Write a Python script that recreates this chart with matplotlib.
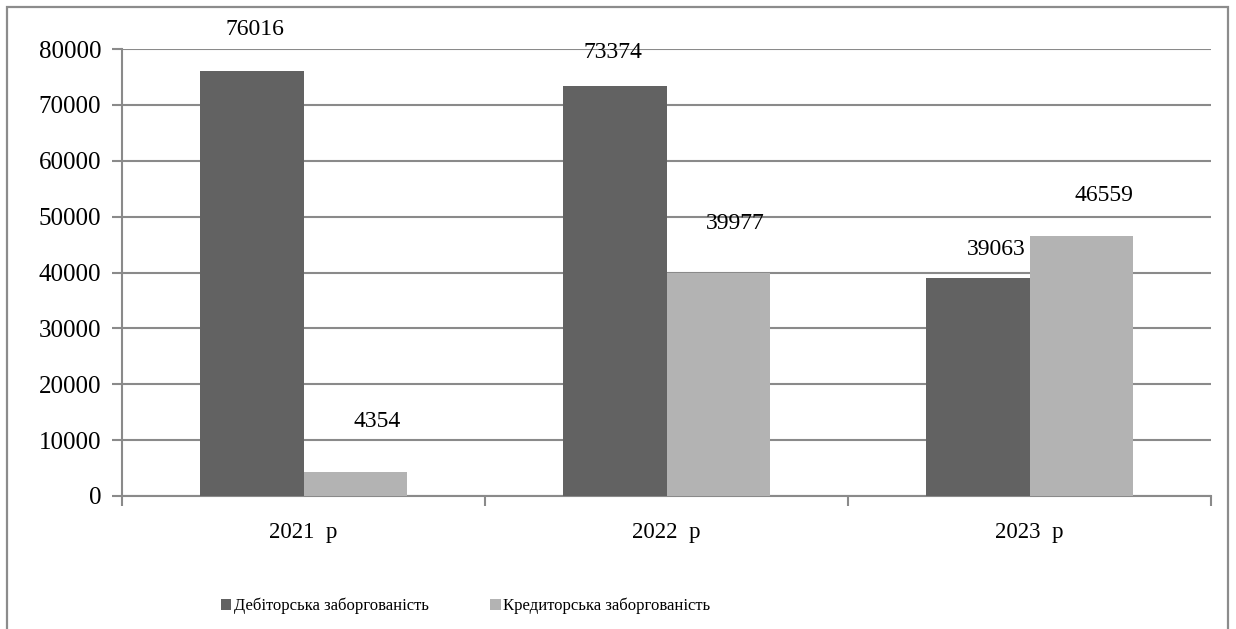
import matplotlib
matplotlib.use("Agg")
import matplotlib.pyplot as plt
from matplotlib.patches import Rectangle, Patch
import numpy as np

# Data
categories = ["2021  р", "2022  р", "2023  р"]
series_names = ["Дебіторська заборгованість", "Кредиторська заборгованість"]
receivables = [76016, 73374, 39063]
payables = [4354, 39977, 46559]
y_ticks = [0, 10000, 20000, 30000, 40000, 50000, 60000, 70000, 80000]

dark = "#626262"
light = "#b3b3b3"
grid_col = "#8a8a8a"
serif = ["Liberation Serif", "DejaVu Serif"]

plt.rcParams["font.family"] = serif

fig = plt.figure(figsize=(12.36, 6.29), dpi=100)
fig.patch.set_facecolor("white")

# outer chart frame (runs past the bottom edge)
fig.add_artist(Rectangle((7 / 1236, -0.05), (1228 - 7) / 1236, 1 - 7 / 629 + 0.05,
                         transform=fig.transFigure, fill=False,
                         edgecolor="#8c8c8c", linewidth=1.6))

ax = fig.add_axes([122 / 1236, 1 - 496 / 629, (1211 - 122) / 1236, (496 - 49) / 629])

x = np.arange(len(categories))
w = 0.284
b1 = ax.bar(x - w / 2, receivables, width=w, color=dark, zorder=3)
b2 = ax.bar(x + w / 2, payables, width=w, color=light, zorder=3)

ax.set_xlim(-0.5, len(categories) - 0.5)
ax.set_ylim(0, 80000)
ax.set_yticks(y_ticks)
ax.set_yticklabels([str(v) for v in y_ticks], fontsize=18)
ax.yaxis.grid(True, color=grid_col, linewidth=1.5, zorder=0)
ax.set_axisbelow(True)

ax.set_xticks(x)
ax.set_xticklabels(categories, fontsize=16.5)
ax.set_xticks(np.arange(-0.5, len(categories)), minor=True)
ax.tick_params(axis="x", which="major", length=0, pad=19)
ax.tick_params(axis="x", which="minor", length=7, width=1.5, color=grid_col, direction="out")
ax.tick_params(axis="y", length=7, width=1.5, color=grid_col, pad=8)

for side in ("top", "right"):
    ax.spines[side].set_visible(False)
for side in ("left", "bottom"):
    ax.spines[side].set_color(grid_col)
    ax.spines[side].set_linewidth(1.5)

# value labels (pixel offsets from each bar's top centre)
dark_offsets = [(3, 42), (-2, 34), (18, 28)]
light_offsets = [(22, 50), (17, 49), (23, 40)]
for bars, vals, offs in ((b1, receivables, dark_offsets), (b2, payables, light_offsets)):
    for rect, v, (dx, dy) in zip(bars, vals, offs):
        ax.annotate(str(v), (rect.get_x() + rect.get_width() / 2, v),
                    xytext=(dx, dy), textcoords="offset pixels",
                    ha="center", va="center", fontsize=17, annotation_clip=False)

handles = [Patch(facecolor=dark, edgecolor="none"), Patch(facecolor=light, edgecolor="none")]
fig.legend(handles, series_names, ncol=2, loc="center left",
           bbox_to_anchor=(221 / 1236, 1 - 606 / 629), frameon=False,
           fontsize=12, handlelength=0.62, handleheight=0.62, handletextpad=0.15,
           columnspacing=3.7, borderpad=0, borderaxespad=0)

fig.savefig("out.png", dpi=100, facecolor="white")
